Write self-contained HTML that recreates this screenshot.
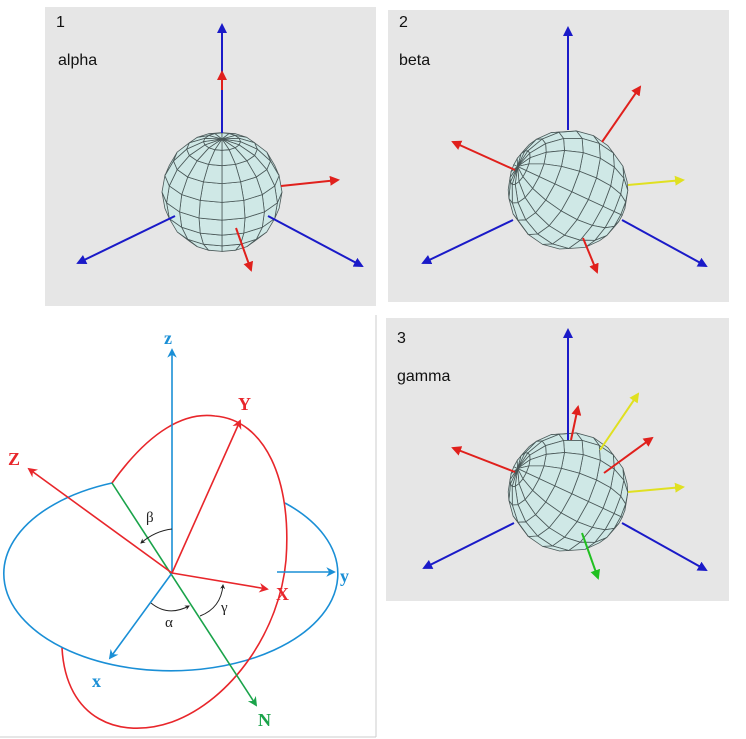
<!DOCTYPE html>
<html><head><meta charset="utf-8"><style>
body{margin:0;background:#fff;width:746px;height:739px;overflow:hidden;font-family:"Liberation Sans",sans-serif}
svg{position:absolute;left:0;top:0}
</style></head><body>
<svg id="s" width="746" height="739" viewBox="0 0 746 739">
<defs>
<marker id="ab" viewBox="0 0 10 10" refX="8" refY="5" markerWidth="5" markerHeight="5" orient="auto"><path d="M0,0L10,5L0,10z" fill="#1a1ac8"/></marker>
<marker id="ar" viewBox="0 0 10 10" refX="8" refY="5" markerWidth="5" markerHeight="5" orient="auto"><path d="M0,0L10,5L0,10z" fill="#e0201c"/></marker>
<marker id="ay" viewBox="0 0 10 10" refX="8" refY="5" markerWidth="5" markerHeight="5" orient="auto"><path d="M0,0L10,5L0,10z" fill="#e0e020"/></marker>
<marker id="ag" viewBox="0 0 10 10" refX="8" refY="5" markerWidth="5" markerHeight="5" orient="auto"><path d="M0,0L10,5L0,10z" fill="#20c020"/></marker>
<marker id="dB" viewBox="0 0 10 10" refX="8" refY="5" markerWidth="6" markerHeight="6" orient="auto"><path d="M0,0L10,5L0,10L3,5z" fill="#1a8fd6"/></marker>
<marker id="dR" viewBox="0 0 10 10" refX="8" refY="5" markerWidth="6" markerHeight="6" orient="auto"><path d="M0,0L10,5L0,10L3,5z" fill="#e8262b"/></marker>
<marker id="dG" viewBox="0 0 10 10" refX="8" refY="5" markerWidth="6" markerHeight="6" orient="auto"><path d="M0,0L10,5L0,10L3,5z" fill="#1aa34a"/></marker>
<marker id="dK" viewBox="0 0 10 10" refX="8" refY="5" markerWidth="5" markerHeight="5" orient="auto"><path d="M0,0L10,5L0,10L3,5z" fill="#222"/></marker>
</defs>
<rect x="45" y="7" width="331" height="299" fill="#e6e6e6"/>
<rect x="388" y="10" width="341" height="292" fill="#e6e6e6"/>
<rect x="386" y="318" width="343" height="283" fill="#e6e6e6"/>
<g font-size="16" fill="#111">
<text x="56" y="27">1</text>
<text x="58" y="65">alpha</text>
<text x="399" y="27">2</text>
<text x="399" y="65">beta</text>
<text x="397" y="343">3</text>
<text x="397" y="381">gamma</text>
</g>
<g id="spheres"></g>
<g id="arrows" stroke-width="2"></g>
<g>
<line x1="376" y1="315" x2="376" y2="737" stroke="#ccc"/>
<line x1="0" y1="737" x2="376" y2="737" stroke="#ccc"/>
<path d="M285,503 A167,97 0 1 1 112,483" fill="none" stroke="#1a8fd6" stroke-width="1.6"/>
<path d="M112,483 C150,430 185,412 215,416 C265,420 292,480 286,560 C280,630 232,700 172,722 C120,740 66,720 62,648" fill="none" stroke="#e8262b" stroke-width="1.6"/>
<line x1="112" y1="483" x2="256" y2="705" stroke="#1aa34a" stroke-width="1.6" marker-end="url(#dG)"/>
<line x1="172" y1="573" x2="172" y2="350" stroke="#1a8fd6" stroke-width="1.6" marker-end="url(#dB)"/>
<line x1="277" y1="572" x2="334" y2="572" stroke="#1a8fd6" stroke-width="1.6" marker-end="url(#dB)"/>
<line x1="172" y1="573" x2="110" y2="658" stroke="#1a8fd6" stroke-width="1.6" marker-end="url(#dB)"/>
<line x1="172" y1="573" x2="29" y2="469" stroke="#e8262b" stroke-width="1.6" marker-end="url(#dR)"/>
<line x1="172" y1="573" x2="240" y2="421" stroke="#e8262b" stroke-width="1.6" marker-end="url(#dR)"/>
<line x1="172" y1="573" x2="267" y2="589" stroke="#e8262b" stroke-width="1.6" marker-end="url(#dR)"/>
<path d="M172,529 Q155,531 141,543" fill="none" stroke="#222" marker-end="url(#dK)"/>
<path d="M151,603 Q168,617 189,606" fill="none" stroke="#222" marker-end="url(#dK)"/>
<path d="M200,616 Q221,608 223,585" fill="none" stroke="#222" marker-end="url(#dK)"/>
<g font-family="Liberation Serif,serif" font-weight="bold" font-size="18">
<text x="164" y="344" fill="#1a8fd6">z</text>
<text x="340" y="582" fill="#1a8fd6">y</text>
<text x="92" y="687" fill="#1a8fd6">x</text>
<text x="8" y="465" fill="#e8262b">Z</text>
<text x="238" y="410" fill="#e8262b">Y</text>
<text x="276" y="600" fill="#e8262b">X</text>
<text x="258" y="726" fill="#1aa34a">N</text>
</g>
<g font-family="Liberation Serif,serif" font-size="15" fill="#222">
<text x="146" y="522">β</text>
<text x="165" y="627">α</text>
<text x="221" y="612">γ</text>
</g>
</g>
</svg>
<script>
const NS='http://www.w3.org/2000/svg';
const sphereCenters=[[222,192],[568,190],[568,492]];
const sphereTilt=[28,22,22];
const sphereRoll=[0,65,65];
const sphereR=60;
const arrowSpecs=[
 ['blue',222,133,222,25],['red',222,90,222,72],['red',281,186,338,180],['red',236,228,251,270],['blue',175,216,78,263],['blue',268,216,362,266],
 ['blue',568,130,568,28],['red',602,142,640,87],['red',515,170,453,142],['yellow',628,185,683,180],['red',583,238,597,272],['blue',513,220,423,263],['blue',622,220,706,266],
 ['blue',568,440,568,330],['red',571,440,578,407],['yellow',600,450,638,394],['red',604,473,652,438],['red',515,472,453,448],['yellow',628,492,683,487],['green',582,533,598,578],['blue',514,523,424,568],['blue',622,523,706,570]
];
const cols={blue:['#1a1ac8','ab'],red:['#e0201c','ar'],yellow:['#e0e020','ay'],green:['#20c020','ag']};
const sg=document.getElementById('spheres');
sphereCenters.forEach((c,i)=>{
 const g=document.createElementNS(NS,'g');
 
 
 const t=sphereTilt[i]*Math.PI/180,r=sphereRoll[i]*Math.PI/180;
 function P(la,lo){
  let x=Math.cos(la)*Math.cos(lo),y=Math.sin(la),z=Math.cos(la)*Math.sin(lo);
  let y2=y*Math.cos(t)-z*Math.sin(t),z2=y*Math.sin(t)+z*Math.cos(t);
  let x3=x*Math.cos(r)-y2*Math.sin(r),y3=x*Math.sin(r)+y2*Math.cos(r);
  return [c[0]+sphereR*x3,c[1]-sphereR*y3,z2];
 }
 const NL=10,NO=16;
 for(let a=0;a<NL;a++)for(let b=0;b<NO;b++){
  const la0=-Math.PI/2+a*Math.PI/NL,la1=la0+Math.PI/NL,lo0=b*2*Math.PI/NO,lo1=lo0+2*Math.PI/NO;
  const q=[P(la0,lo0),P(la0,lo1),P(la1,lo1),P(la1,lo0)];
  if(q.reduce((s,p)=>s+p[2],0)<0)continue;
  const pg=document.createElementNS(NS,'polygon');
  pg.setAttribute('points',q.map(p=>p[0].toFixed(1)+','+p[1].toFixed(1)).join(' '));
  pg.setAttribute('fill','#cfe8e6');pg.setAttribute('stroke','#4a5858');pg.setAttribute('stroke-width','0.8');
  g.appendChild(pg);
 }
 sg.appendChild(g);
});
const ag=document.getElementById('arrows');
arrowSpecs.forEach((a,i)=>{
 const l=document.createElementNS(NS,'line');
 
 
 l.setAttribute('x1',a[1]);l.setAttribute('y1',a[2]);l.setAttribute('x2',a[3]);l.setAttribute('y2',a[4]);
 l.setAttribute('stroke',cols[a[0]][0]);l.setAttribute('marker-end','url(#'+cols[a[0]][1]+')');
 ag.appendChild(l);
});
</script>
</body></html>
